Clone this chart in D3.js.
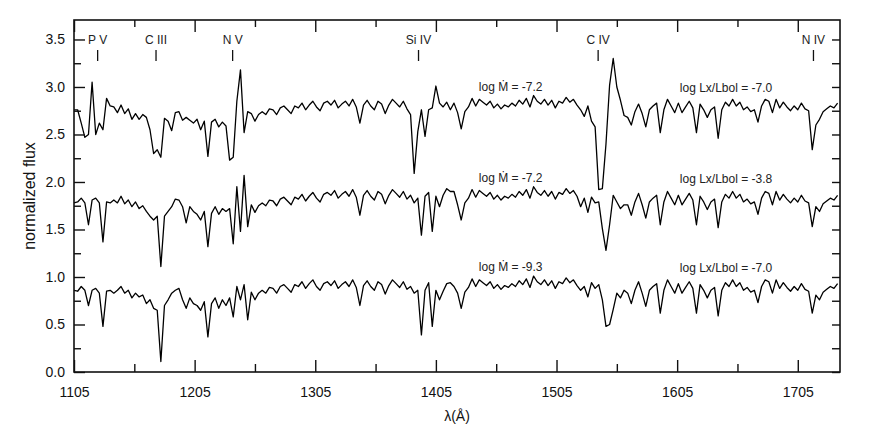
<!DOCTYPE html>
<html>
<head>
<meta charset="utf-8">
<style>

body {
  margin: 0;
  background: #fff;
}

svg {
  display: block;
  font-family: "Liberation Sans", Arial, sans-serif;
}

.axis path.domain {
  display: none;
}

.axis line {
  stroke: #111;
  stroke-width: 1.4;
}

.axis text {
  font-size: 14px;
  fill: #111;
}

.frame {
  fill: none;
  stroke: #111;
  stroke-width: 1.6;
}

.spectrum {
  fill: none;
  stroke: #000;
  stroke-width: 1.3;
  stroke-linejoin: round;
}

.note {
  font-size: 12px;
  fill: #222;
}

</style>
</head>
<body>
<svg width="872" height="436"></svg>
<script src="https://d3js.org/d3.v7.min.js"></script>
<script>

// normalized flux, sampled every 3 A from 1105 A (read off the figure)
// top: log Mdot = -7.2, log Lx/Lbol = -7.0
var fluxTop = [
  2.76, 2.76, 2.62, 2.47, 2.50, 3.05, 2.50, 2.62, 2.55, 2.88,
  2.80, 2.79, 2.73, 2.81, 2.72, 2.77, 2.66, 2.72, 2.66, 2.71,
  2.68, 2.55, 2.30, 2.34, 2.26, 2.67, 2.64, 2.54, 2.73, 2.74,
  2.65, 2.68, 2.65, 2.62, 2.66, 2.55, 2.64, 2.27, 2.63, 2.66,
  2.58, 2.63, 2.59, 2.23, 2.26, 2.85, 3.18, 2.52, 2.74, 2.72,
  2.64, 2.71, 2.74, 2.71, 2.77, 2.76, 2.71, 2.78, 2.80, 2.76,
  2.72, 2.80, 2.78, 2.83, 2.76, 2.81, 2.85, 2.79, 2.75, 2.83,
  2.85, 2.81, 2.86, 2.78, 2.82, 2.85, 2.80, 2.87, 2.79, 2.62,
  2.81, 2.86, 2.80, 2.76, 2.85, 2.82, 2.72, 2.81, 2.87, 2.83,
  2.79, 2.85, 2.77, 2.71, 2.09, 2.53, 2.76, 2.48, 2.76, 2.78,
  3.01, 2.83, 2.79, 2.84, 2.76, 2.83, 2.73, 2.56, 2.74, 2.79,
  2.88, 2.80, 2.87, 2.84, 2.81, 2.85, 2.78, 2.82, 2.77, 2.81,
  2.79, 2.83, 2.80, 2.86, 2.82, 2.88, 2.79, 2.91, 2.85, 2.82,
  2.87, 2.81, 2.86, 2.78, 2.85, 2.83, 2.89, 2.84, 2.87, 2.81,
  2.76, 2.69, 2.80, 2.64, 2.58, 1.92, 1.93, 2.40, 3.02, 3.30,
  3.00, 2.86, 2.70, 2.68, 2.60, 2.74, 2.82, 2.72, 2.58, 2.76,
  2.80, 2.83, 2.52, 2.76, 2.87, 2.80, 2.73, 2.83, 2.73, 2.79,
  2.85, 2.78, 2.52, 2.82, 2.76, 2.68, 2.76, 2.79, 2.46, 2.76,
  2.84, 2.80, 2.87, 2.80, 2.84, 2.76, 2.79, 2.74, 2.76, 2.63,
  2.80, 2.87, 2.85, 2.73, 2.87, 2.78, 2.84, 2.79, 2.75, 2.80,
  2.76, 2.83, 2.77, 2.75, 2.34, 2.60, 2.66, 2.74, 2.77, 2.80,
  2.78, 2.83
];

// middle: log Mdot = -7.2, log Lx/Lbol = -3.8
var fluxMid = [
  1.78, 1.79, 1.83, 1.78, 1.55, 1.81, 1.83, 1.78, 1.37, 1.79,
  1.78, 1.81, 1.78, 1.85, 1.77, 1.81, 1.74, 1.79, 1.72, 1.75,
  1.69, 1.64, 1.60, 1.64, 1.11, 1.64, 1.69, 1.74, 1.82, 1.81,
  1.74, 1.57, 1.74, 1.69, 1.66, 1.60, 1.69, 1.32, 1.67, 1.74,
  1.66, 1.72, 1.69, 1.72, 1.35, 1.95, 1.48, 2.07, 1.53, 1.76,
  1.68, 1.75, 1.78, 1.75, 1.81, 1.80, 1.75, 1.82, 1.84, 1.80,
  1.76, 1.84, 1.82, 1.87, 1.80, 1.85, 1.89, 1.83, 1.79, 1.87,
  1.89, 1.86, 1.91, 1.83, 1.87, 1.90, 1.85, 1.92, 1.84, 1.65,
  1.86, 1.91, 1.85, 1.81, 1.90, 1.87, 1.77, 1.86, 1.92, 1.88,
  1.84, 1.90, 1.82, 1.86, 1.78, 1.83, 1.44, 1.85, 1.89, 1.48,
  1.85, 1.74, 1.86, 1.93, 1.90, 1.90, 1.76, 1.60, 1.78, 1.83,
  1.92, 1.84, 1.91, 1.88, 1.85, 1.89, 1.82, 1.86, 1.81, 1.85,
  1.83, 1.87, 1.84, 1.90, 1.86, 1.92, 1.83, 1.95, 1.89, 1.86,
  1.91, 1.85, 1.90, 1.82, 1.89, 1.87, 1.93, 1.88, 1.91, 1.85,
  1.74, 1.83, 1.68, 1.84, 1.78, 1.79, 1.51, 1.28, 1.55, 1.86,
  1.79, 1.72, 1.76, 1.76, 1.65, 1.79, 1.88, 1.76, 1.62, 1.79,
  1.83, 1.86, 1.55, 1.79, 1.90, 1.83, 1.76, 1.86, 1.76, 1.82,
  1.88, 1.81, 1.55, 1.85, 1.79, 1.71, 1.79, 1.82, 1.52, 1.79,
  1.87, 1.83, 1.90, 1.83, 1.87, 1.79, 1.82, 1.77, 1.79, 1.66,
  1.83, 1.90, 1.88, 1.76, 1.90, 1.81, 1.87, 1.82, 1.78, 1.83,
  1.79, 1.86, 1.80, 1.78, 1.53, 1.74, 1.69, 1.77, 1.80, 1.83,
  1.81, 1.86
];

// bottom: log Mdot = -9.3, log Lx/Lbol = -7.0
var fluxLow = [
  0.86, 0.85, 0.90, 0.86, 0.70, 0.86, 0.88, 0.83, 0.48, 0.85,
  0.86, 0.83, 0.86, 0.90, 0.83, 0.86, 0.78, 0.83, 0.79, 0.81,
  0.72, 0.76, 0.67, 0.65, 0.11, 0.70, 0.76, 0.83, 0.86, 0.88,
  0.76, 0.67, 0.78, 0.72, 0.70, 0.65, 0.74, 0.37, 0.72, 0.78,
  0.67, 0.76, 0.70, 0.78, 0.58, 0.90, 0.76, 0.92, 0.55, 0.84,
  0.76, 0.83, 0.86, 0.83, 0.89, 0.88, 0.83, 0.90, 0.92, 0.88,
  0.84, 0.92, 0.90, 0.95, 0.88, 0.93, 0.97, 0.90, 0.86, 0.93,
  0.95, 0.91, 0.96, 0.88, 0.92, 0.95, 0.90, 0.97, 0.89, 0.70,
  0.91, 0.96, 0.90, 0.86, 0.95, 0.92, 0.82, 0.91, 0.97, 0.93,
  0.89, 0.95, 0.87, 0.90, 0.83, 0.86, 0.39, 0.86, 0.94, 0.48,
  0.86, 0.76, 0.85, 0.93, 0.94, 0.90, 0.83, 0.67, 0.84, 0.89,
  0.98, 0.90, 0.97, 0.94, 0.91, 0.95, 0.88, 0.92, 0.87, 0.91,
  0.89, 0.93, 0.90, 0.96, 0.92, 0.98, 0.89, 1.01, 0.95, 0.92,
  0.97, 0.91, 0.96, 0.88, 0.95, 0.93, 0.99, 0.94, 0.97, 0.91,
  0.86, 0.90, 0.79, 0.94, 0.88, 0.92, 0.76, 0.48, 0.50, 0.66,
  0.83, 0.78, 0.86, 0.83, 0.72, 0.86, 0.95, 0.83, 0.69, 0.86,
  0.90, 0.93, 0.62, 0.86, 0.97, 0.90, 0.83, 0.93, 0.83, 0.89,
  0.95, 0.88, 0.62, 0.92, 0.86, 0.78, 0.86, 0.89, 0.59, 0.86,
  0.94, 0.90, 0.97, 0.90, 0.94, 0.86, 0.89, 0.84, 0.86, 0.73,
  0.90, 0.97, 0.95, 0.83, 0.97, 0.88, 0.94, 0.89, 0.85, 0.90,
  0.86, 0.93, 0.87, 0.85, 0.62, 0.81, 0.76, 0.84, 0.87, 0.90,
  0.88, 0.93
];

// wavelength grid of the samples above
var wavelength = d3.range(1105, 1739, 3);

var xMajorTicks = [1105, 1205, 1305, 1405, 1505, 1605, 1705];
var xMinorTicks = [1155, 1255, 1355, 1455, 1555, 1655];
var yMajorTicks = [0, 0.5, 1, 1.5, 2, 2.5, 3, 3.5];
var yMinorTicks = [0.25, 0.75, 1.25, 1.75, 2.25, 2.75, 3.25];

// ion marks along the top
var lineNames = ["P V", "C III", "N V", "Si IV", "C IV", "N IV"];
var lineWaves = [1124.6, 1173, 1236.5, 1390.6, 1539.5, 1718];

// model labels, one row per spectrum (top to bottom)
var mdotLabels = ["log \u1E40 = -7.2", "log \u1E40 = -7.2", "log \u1E40 = -9.3"];
var lxLabels = ["log Lx/Lbol = -7.0", "log Lx/Lbol = -3.8", "log Lx/Lbol = -7.0"];
var labelFlux = [2.96, 2.0, 1.06];
var mdotLabelWave = 1440.6, lxLabelWave = 1607.2;

var svg = d3.select("svg");
var plotLeft = 74, plotRight = 840, plotTop = 20, plotBottom = 372;

var x = d3.scaleLinear().domain([1105, 1740]).range([plotLeft, plotRight]);
var y = d3.scaleLinear().domain([0, 3.705]).range([plotBottom, plotTop]);

// spectra
var line = d3.line()
  .x(function(d, i) { return x(wavelength[i]); })
  .y(function(d) { return y(d); });

svg.append("g")
  .selectAll("path")
  .data([fluxTop, fluxMid, fluxLow])
  .enter().append("path")
    .attr("class", "spectrum")
    .attr("d", line);

// axes, ticks pointing inwards on all four sides
svg.append("g").attr("class", "axis")
  .attr("transform", "translate(0," + plotBottom + ")")
  .call(d3.axisBottom(x).tickValues(xMajorTicks).tickSizeInner(-12).tickSizeOuter(0)
    .tickPadding(15).tickFormat(d3.format("d")));
svg.append("g").attr("class", "axis")
  .attr("transform", "translate(0," + plotBottom + ")")
  .call(d3.axisBottom(x).tickValues(xMinorTicks).tickSizeInner(-8).tickSizeOuter(0).tickFormat(""));
svg.append("g").attr("class", "axis")
  .attr("transform", "translate(0," + plotTop + ")")
  .call(d3.axisTop(x).tickValues(xMajorTicks).tickSizeInner(-12).tickSizeOuter(0).tickFormat(""));
svg.append("g").attr("class", "axis")
  .attr("transform", "translate(0," + plotTop + ")")
  .call(d3.axisTop(x).tickValues(xMinorTicks).tickSizeInner(-7).tickSizeOuter(0).tickFormat(""));

svg.append("g").attr("class", "axis")
  .attr("transform", "translate(" + plotLeft + ",0)")
  .call(d3.axisLeft(y).tickValues(yMajorTicks).tickSizeInner(-11).tickSizeOuter(0)
    .tickPadding(9).tickFormat(d3.format(".1f")));
svg.append("g").attr("class", "axis")
  .attr("transform", "translate(" + plotLeft + ",0)")
  .call(d3.axisLeft(y).tickValues(yMinorTicks).tickSizeInner(-7).tickSizeOuter(0).tickFormat(""));
svg.append("g").attr("class", "axis")
  .attr("transform", "translate(" + plotRight + ",0)")
  .call(d3.axisRight(y).tickValues(yMajorTicks.concat(yMinorTicks)).tickSizeInner(-8).tickSizeOuter(0).tickFormat(""));

svg.append("rect")
  .attr("class", "frame")
  .attr("x", plotLeft)
  .attr("y", plotTop)
  .attr("width", plotRight - plotLeft)
  .attr("height", plotBottom - plotTop);

// ion identifications
var ions = svg.append("g")
  .selectAll("g")
  .data(lineNames)
  .enter().append("g")
    .attr("transform", function(d, i) { return "translate(" + x(lineWaves[i]) + ",0)"; });
ions.append("text")
  .attr("class", "note")
  .attr("y", 44)
  .attr("text-anchor", "middle")
  .text(function(d) { return d; });
ions.append("line")
  .attr("y1", 50)
  .attr("y2", 61)
  .attr("stroke", "#111")
  .attr("stroke-width", 1.3);

// model parameters
svg.append("g")
  .selectAll("text")
  .data(mdotLabels)
  .enter().append("text")
    .attr("class", "note")
    .attr("x", x(mdotLabelWave))
    .attr("y", function(d, i) { return y(labelFlux[i]); })
    .text(function(d) { return d; });

svg.append("g")
  .selectAll("text")
  .data(lxLabels)
  .enter().append("text")
    .attr("class", "note")
    .attr("x", x(lxLabelWave))
    .attr("y", function(d, i) { return y(labelFlux[i]) + 1; })
    .text(function(d) { return d; });

// axis titles
svg.append("text")
  .attr("transform", "translate(35," + (plotTop + plotBottom) / 2 + ") rotate(-90)")
  .attr("text-anchor", "middle")
  .style("font-size", "16px")
  .attr("fill", "#111")
  .text("normalized flux");

svg.append("text")
  .attr("x", (plotLeft + plotRight) / 2)
  .attr("y", 421)
  .attr("text-anchor", "middle")
  .style("font-size", "14px")
  .attr("fill", "#111")
  .text("\u03BB(\u00C5)");

</script>
</body>
</html>
